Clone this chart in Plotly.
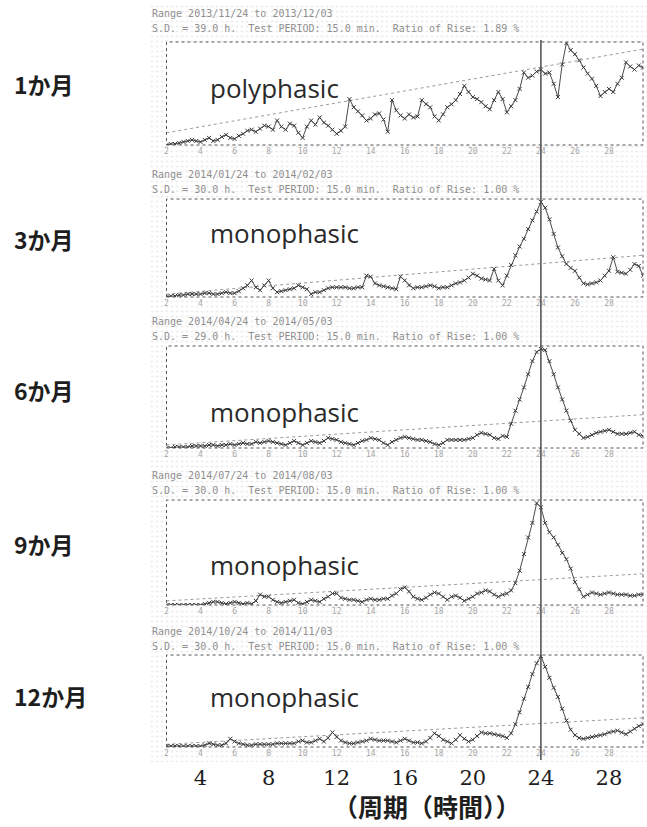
import plotly.graph_objects as go

W, H = 647, 827

# Chi-square periodogram, test periods in 15-min steps from 2 h to 30 h
period = [2 + 0.25 * i for i in range(113)]

# Qp (scaled to 0-100) for each age; one row per hour: h, h+.25, h+.5, h+.75
qp_1m = [
    0, 1, 1, 2,   3, 4, 5, 4,   3, 5, 7, 4,   5, 8, 10, 7,
    6, 9, 11, 14,   15, 13, 16, 19,   18, 15, 24, 18,   15, 21, 19, 12,
    7, 18, 24, 20,   27, 22, 19, 15,   11, 14, 18, 45,   37, 33, 29, 24,
    26, 30, 31, 25,   13, 44, 34, 29,   26, 30, 27, 28,   44, 40, 37, 28,
    24, 30, 37, 40,   44, 50, 58, 52,   47, 45, 42, 38,   35, 44, 52, 45,
    32, 38, 44, 55,   71, 66, 68, 72,   74, 70, 71, 60,   47, 79, 100, 93,
    89, 83, 76, 70,   65, 58, 48, 52,   55, 52, 60, 66,   81, 77, 74, 78,
    76,
]
qp_3m = [
    0, 1, 1, 2,   2, 3, 3, 3,   3, 4, 4, 3,   3, 4, 5, 4,
    4, 6, 9, 12,   17, 10, 7, 12,   17, 9, 5, 6,   7, 8, 9, 12,
    10, 8, 3, 5,   5, 7, 9, 10,   10, 10, 10, 9,   9, 10, 10, 22,
    21, 14, 12, 11,   10, 9, 8, 21,   17, 12, 9, 10,   10, 11, 12, 11,
    9, 10, 10, 12,   14, 15, 17, 20,   24, 22, 19, 18,   17, 29, 17, 12,
    22, 33, 43, 52,   60, 70, 79, 88,   98, 92, 80, 65,   51, 42, 34, 30,
    27, 20, 14, 13,   14, 15, 17, 22,   27, 41, 26, 25,   24, 28, 34, 32,
    22,
]
qp_6m = [
    0, 0, 1, 1,   1, 1, 2, 2,   2, 2, 3, 3,   2, 3, 3, 4,
    3, 4, 5, 4,   4, 6, 5, 6,   7, 6, 5, 4,   3, 5, 7, 5,
    3, 5, 7, 6,   5, 7, 10, 9,   8, 6, 5, 4,   3, 5, 7, 8,
    10, 9, 8, 5,   3, 6, 8, 10,   11, 10, 9, 8,   8, 7, 6, 4,
    3, 5, 8, 8,   8, 8, 8, 9,   10, 13, 15, 14,   13, 10, 9, 12,
    11, 24, 37, 48,   60, 73, 86, 95,   98, 97, 86, 73,   60, 48, 37, 27,
    18, 14, 10, 11,   13, 15, 16, 17,   18, 16, 14, 14,   14, 15, 16, 13,
    12,
]
qp_9m = [
    0, 0, 0, 0,   0, 0, 0, 0,   0, 1, 2, 3,   3, 2, 1, 2,
    3, 2, 1, 2,   1, 4, 10, 8,   8, 5, 3, 2,   3, 4, 5, 2,
    1, 3, 5, 4,   3, 6, 8, 11,   11, 7, 6, 5,   5, 4, 3, 5,
    6, 5, 5, 6,   6, 9, 11, 15,   17, 13, 8, 6,   5, 7, 10, 12,
    11, 8, 5, 8,   9, 7, 4, 6,   8, 11, 12, 14,   13, 10, 8, 10,
    11, 14, 21, 33,   49, 65, 79, 98,   94, 79, 70, 65,   58, 50, 44, 35,
    22, 15, 8, 10,   12, 11, 10, 11,   12, 11, 10, 10,   10, 9, 9, 10,
    10,
]
qp_12m = [
    1, 1, 1, 1,   1, 1, 1, 1,   1, 2, 4, 3,   2, 2, 4, 9,
    6, 4, 3, 2,   2, 3, 3, 3,   3, 3, 4, 4,   4, 4, 4, 6,
    7, 5, 5, 7,   9, 6, 10, 16,   11, 7, 5, 4,   4, 5, 6, 7,
    9, 8, 7, 7,   7, 6, 5, 7,   9, 7, 5, 5,   4, 6, 10, 15,
    12, 8, 6, 4,   8, 13, 9, 6,   8, 12, 16, 15,   15, 14, 13, 12,
    10, 15, 25, 38,   53, 66, 80, 92,   100, 88, 76, 65,   55, 42, 29, 19,
    13, 10, 9, 10,   11, 12, 13, 14,   16, 17, 18, 16,   14, 17, 20, 23,
    25,
]

# significance (alpha) line end points
thr_period = [2, 30]
thr_1m = [12, 94]
thr_3m = [3, 43]
thr_6m = [3, 33]
thr_9m = [4, 30]
thr_12m = [3, 32]

month_labels = ["1か月", "3か月", "6か月", "9か月", "12か月"]
rhythm_labels = ["polyphasic", "monophasic", "monophasic", "monophasic", "monophasic"]
headers = [
    ("Range 2013/11/24 to 2013/12/03", "S.D. = 39.0 h.  Test PERIOD: 15.0 min.  Ratio of Rise: 1.89 %"),
    ("Range 2014/01/24 to 2014/02/03", "S.D. = 30.0 h.  Test PERIOD: 15.0 min.  Ratio of Rise: 1.00 %"),
    ("Range 2014/04/24 to 2014/05/03", "S.D. = 29.0 h.  Test PERIOD: 15.0 min.  Ratio of Rise: 1.00 %"),
    ("Range 2014/07/24 to 2014/08/03", "S.D. = 30.0 h.  Test PERIOD: 15.0 min.  Ratio of Rise: 1.00 %"),
    ("Range 2014/10/24 to 2014/11/03", "S.D. = 30.0 h.  Test PERIOD: 15.0 min.  Ratio of Rise: 1.00 %"),
]
small_ticks = list(range(2, 31, 2))
main_ticks = [4, 8, 12, 16, 20, 24, 28]
x_title = "（周期（時間））"
ref_period = 24

series = [qp_1m, qp_3m, qp_6m, qp_9m, qp_12m]
thresholds = [thr_1m, thr_3m, thr_6m, thr_9m, thr_12m]

X_RANGE = [2, 30]
Y_RANGE = [0, 101]

# layout geometry in pixels
BOX_X = (165, 643)
BOXES = [(42, 145), (199, 297), (346, 448), (500, 605), (655, 747)]
MONTH_Y = [84, 239, 390, 544, 696]
RHYTHM_Y = [88, 233, 412, 565, 697]
HEADER_SPLIT = [21, 182, 329, 483, 639]   # boundary between the two header lines


def px(x):
    return x / W


def py(y):
    return 1 - y / H


CJK = "Noto Sans CJK JP"
x_dom = [px(BOX_X[0]), px(BOX_X[1])]

fig = go.Figure()
layout = dict(
    width=W, height=H, margin=dict(l=0, r=0, t=0, b=0),
    paper_bgcolor="white", plot_bgcolor="rgba(0,0,0,0)",
    showlegend=False,
)

# faint dotted printout texture behind the panels
layout["xaxis"] = dict(domain=[px(148), 1], range=[0, 1], visible=False, fixedrange=True)
layout["yaxis"] = dict(domain=[py(762), py(4)], range=[0, 1], visible=False, fixedrange=True)
fig.add_trace(go.Scatter(
    x=[0, 1, 1, 0, 0], y=[0, 0, 1, 1, 0], xaxis="x", yaxis="y",
    mode="none", fill="toself", fillcolor="white",
    fillpattern=dict(shape=".", fgcolor="#cdcdcd", bgcolor="white", size=5, solidity=0.15),
    hoverinfo="skip",
))

shapes = []
annotations = []
for i in range(5):
    n = i + 2
    xa, ya = f"x{n}", f"y{n}"
    top, bot = BOXES[i]
    layout[f"xaxis{n}"] = dict(
        domain=x_dom, range=X_RANGE, anchor=ya, tickvals=small_ticks,
        ticks="", showgrid=False, zeroline=False, showline=False,
        tickfont=dict(family="DejaVu Sans Mono", size=8, color="#a6a6a6"),
        fixedrange=True,
    )
    layout[f"yaxis{n}"] = dict(
        domain=[py(bot), py(top)], range=Y_RANGE, anchor=xa, visible=False,
        showgrid=False, fixedrange=True,
    )
    # white plotting area
    fig.add_trace(go.Scatter(
        x=[X_RANGE[0], X_RANGE[1], X_RANGE[1], X_RANGE[0], X_RANGE[0]],
        y=[Y_RANGE[0], Y_RANGE[0], Y_RANGE[1], Y_RANGE[1], Y_RANGE[0]],
        xaxis=xa, yaxis=ya, mode="none", fill="toself", fillcolor="white",
        hoverinfo="skip",
    ))
    # significance line
    fig.add_trace(go.Scatter(
        x=thr_period, y=thresholds[i], xaxis=xa, yaxis=ya, mode="lines",
        line=dict(color="#9a9a9a", width=1, dash="dot"), hoverinfo="skip",
    ))
    # periodogram
    fig.add_trace(go.Scatter(
        x=period, y=series[i], xaxis=xa, yaxis=ya, mode="lines+markers",
        line=dict(color="#4a4a4a", width=1),
        marker=dict(symbol="x-thin", size=4, line=dict(color="#3a3a3a", width=1)),
    ))
    # dotted frame
    shapes.append(dict(
        type="rect", xref=f"{xa} domain", yref=f"{ya} domain",
        x0=0, x1=1, y0=0, y1=1, line=dict(color="#555555", width=1, dash="dot"),
    ))
    annotations.append(dict(
        text=month_labels[i], xref="paper", yref="paper", x=px(10), y=py(MONTH_Y[i]),
        xanchor="left", yanchor="middle", showarrow=False,
        font=dict(family=CJK, size=23, color="#1e1e1e", weight="bold"),
    ))
    annotations.append(dict(
        text=rhythm_labels[i], xref="paper", yref="paper", x=px(207), y=py(RHYTHM_Y[i]),
        xanchor="left", yanchor="middle", showarrow=False,
        font=dict(family="Open Sans", size=26, color="#2a2a2a"),
    ))
    for line_txt, anchor in zip(headers[i], ("bottom", "top")):
        annotations.append(dict(
            text=line_txt, xref="paper", yref="paper", x=px(148), y=py(HEADER_SPLIT[i]),
            xanchor="left", yanchor=anchor, showarrow=False,
            font=dict(family="DejaVu Sans Mono", size=10, color="#8f8f8f"),
        ))

# shared period axis below the panels
layout["xaxis7"] = dict(
    domain=x_dom, range=X_RANGE, anchor="y7", tickvals=main_ticks,
    ticks="", showgrid=False, zeroline=False, showline=False,
    tickfont=dict(family="DejaVu Serif", size=21, color="#1e1e1e"),
    fixedrange=True,
)
layout["yaxis7"] = dict(domain=[py(763), py(758)], range=[0, 1], visible=False, fixedrange=True)
fig.add_trace(go.Scatter(x=[X_RANGE[0]], y=[0], xaxis="x7", yaxis="y7", mode="none",
                         hoverinfo="skip"))
annotations.append(dict(
    text=x_title, xref="paper", yref="paper", x=px(426), y=py(806),
    xanchor="center", yanchor="middle", showarrow=False,
    font=dict(family=CJK, size=25, color="#1e1e1e", weight="bold"),
))

# reference line at 24 h through all panels
shapes.append(dict(
    type="line", xref="x2", yref="paper", x0=ref_period, x1=ref_period,
    y0=py(760), y1=py(40), line=dict(color="#4d4d4d", width=1.5),
))

layout["shapes"] = shapes
layout["annotations"] = annotations
fig.update_layout(**layout)
fig.write_html("out.html")
